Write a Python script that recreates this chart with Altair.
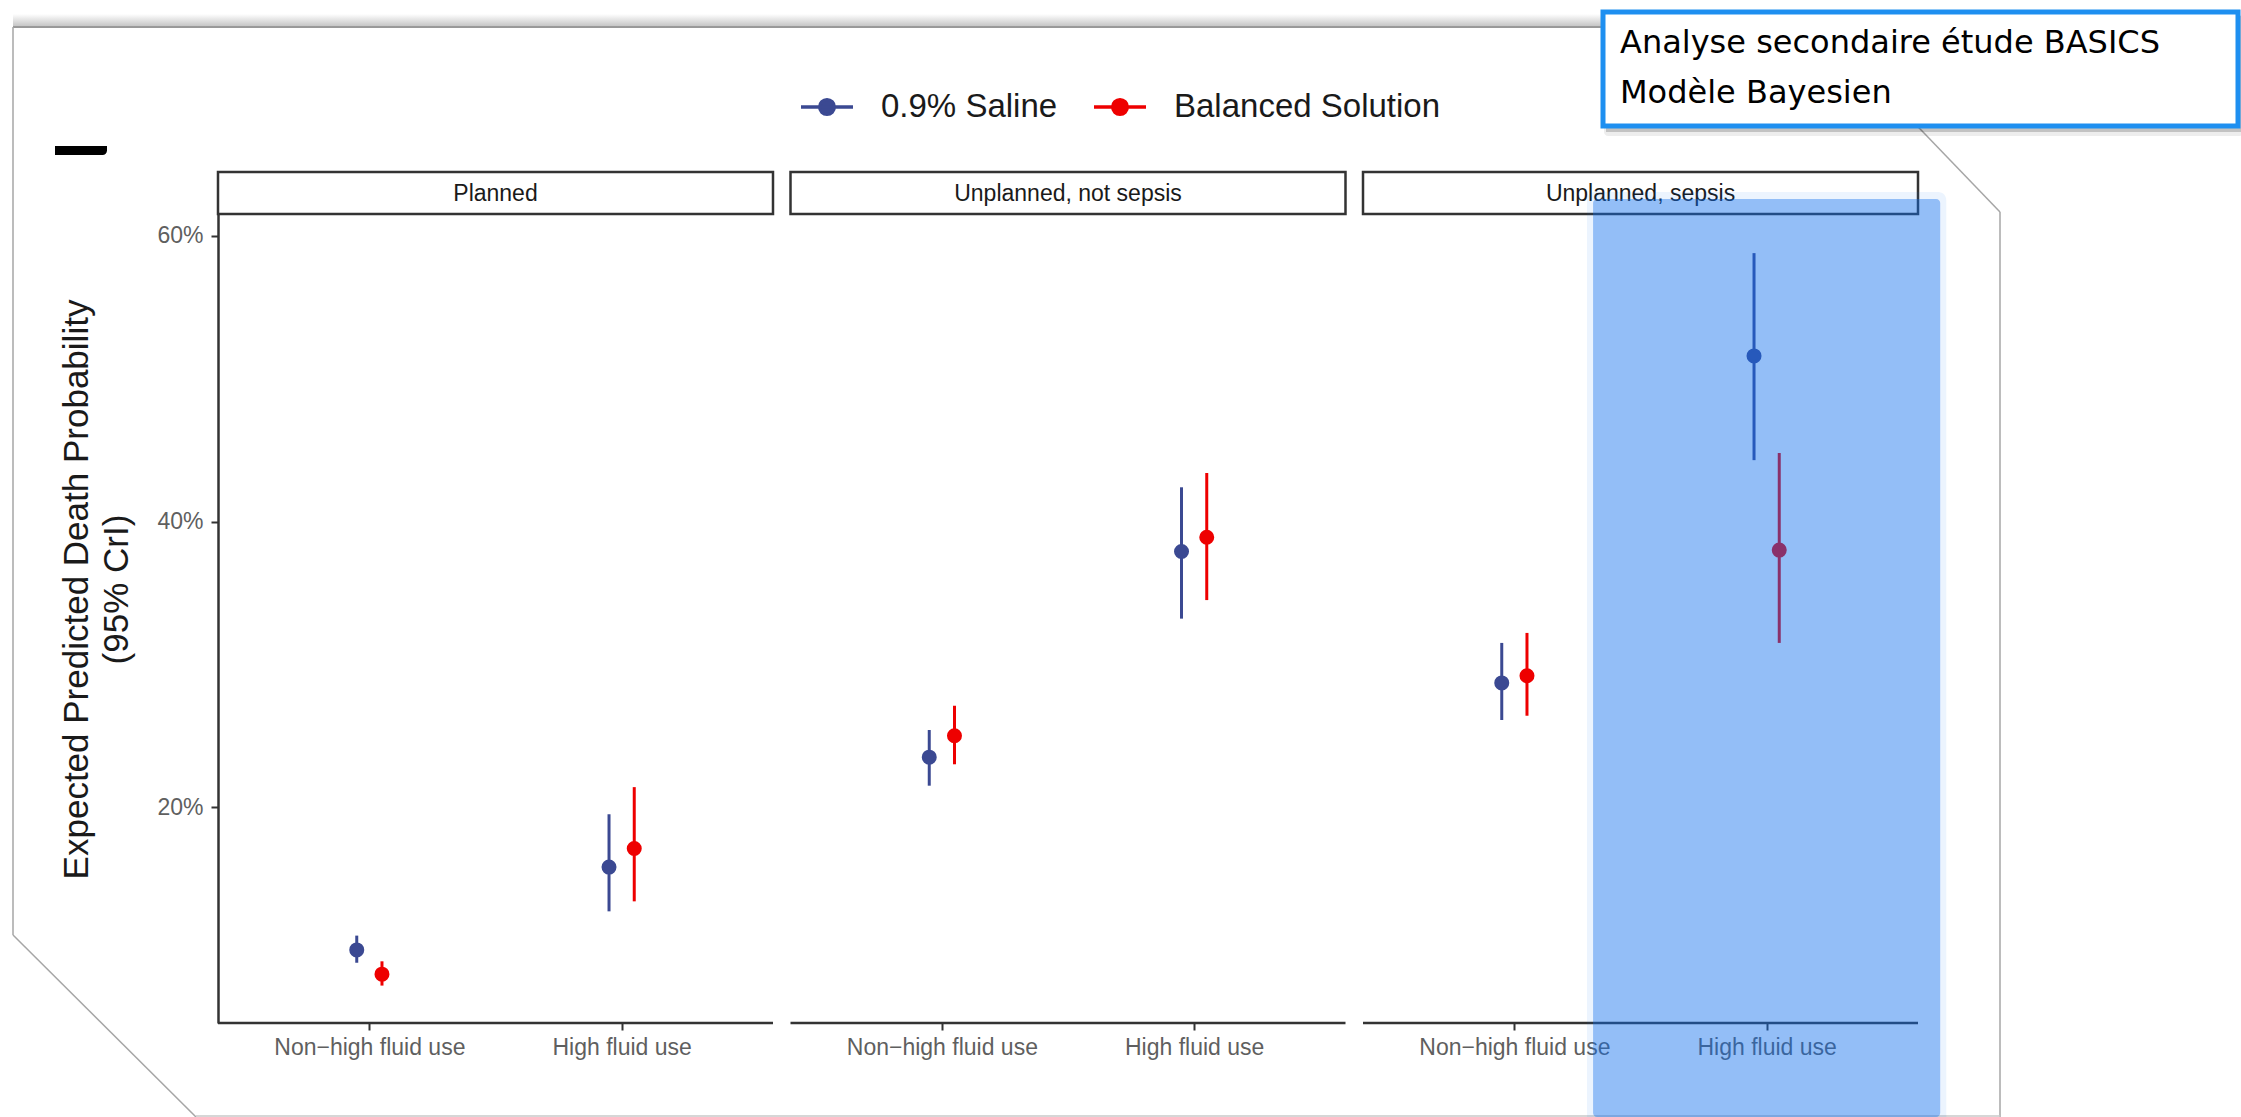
import altair as alt
import pandas as pd

# ---- data -----------------------------------------------------------------
panels = ["Planned", "Unplanned, not sepsis", "Unplanned, sepsis"]
fluid_use = ["Non\u2212high fluid use", "High fluid use"]
solutions = ["0.9% Saline", "Balanced Solution"]
solution_colors = ["#3B4992", "#EE0000"]

# Expected predicted death probability with its 95% CrI, panel by panel,
# non-high fluid use first, then high fluid use.
saline_est = [0.100, 0.158, 0.235, 0.379, 0.287, 0.516]
saline_low = [0.091, 0.127, 0.215, 0.332, 0.261, 0.443]
saline_high = [0.110, 0.195, 0.254, 0.424, 0.315, 0.588]
balanced_est = [0.083, 0.171, 0.250, 0.389, 0.292, 0.380]
balanced_low = [0.075, 0.134, 0.230, 0.345, 0.264, 0.315]
balanced_high = [0.092, 0.214, 0.271, 0.434, 0.322, 0.448]

y_ticks = [0.2, 0.4, 0.6]
y_title = ["Expected Predicted Death Probability", "(95% CrI)"]
highlight = ("Unplanned, sepsis", "High fluid use")
note_lines = ["Analyse secondaire étude BASICS", "Modèle Bayesien"]

# ---- layout ---------------------------------------------------------------
PAGE_W, PAGE_H = 2241, 1117
OX, OY = 218, 214            # plot origin on the page
W, H = 1700, 809             # plot area
SPAN = 2.2                   # one facet: discrete positions 1..2 expanded by 0.6
GAP = 0.0694                 # space between facets, in the same units
PERIOD = SPAN + GAP
X_MAX = 3 * SPAN + 2 * GAP
DODGE = 0.05
Y_MIN, Y_MAX = 0.0488, 0.6154

series = {
    solutions[0]: (saline_est, saline_low, saline_high),
    solutions[1]: (balanced_est, balanced_low, balanced_high),
}
rows = []
for k, sol in enumerate(solutions):
    est, low, high = series[sol]
    for idx in range(len(est)):
        i, j = divmod(idx, len(fluid_use))
        rows.append({
            "panel": panels[i], "fluid": fluid_use[j], "solution": sol,
            "xpos": i * PERIOD + j + 0.6 + (k - 0.5) * 2 * DODGE,
            "est": est[idx], "low": low[idx], "high": high[idx],
        })
df = pd.DataFrame(rows)

panel_df = pd.DataFrame({
    "panel": panels,
    "start": [i * PERIOD for i in range(len(panels))],
})
panel_df["end"] = panel_df["start"] + SPAN
panel_df["mid"] = panel_df["start"] + SPAN / 2

x_ticks = [i * PERIOD + j + 0.6 for i in range(len(panels)) for j in range(len(fluid_use))]
label_expr = f"(datum.value % {PERIOD}) < 1.1 ? '{fluid_use[0]}' : '{fluid_use[1]}'"

hl_center = panels.index(highlight[0]) * PERIOD + fluid_use.index(highlight[1]) + 0.6
hl_df = pd.DataFrame({"center": [hl_center]})

FONT = "Liberation Sans"

xs = alt.Scale(domain=[0, X_MAX], nice=False, zero=False)
ys = alt.Scale(domain=[Y_MIN, Y_MAX], nice=False, zero=False)
color_scale = alt.Scale(domain=solutions, range=solution_colors)

x_axis = alt.Axis(
    values=x_ticks, labelExpr=label_expr, domain=False, grid=False,
    tickSize=7, tickWidth=2, tickColor="#333333",
    labelFont=FONT, labelFontSize=23, labelColor="#5f5f5f", labelPadding=6,
    labelLimit=400, labelFlush=False, labelOverlap=False, zindex=0,
)
y_axis = alt.Axis(
    values=y_ticks, format=".0%", grid=False,
    domainColor="#333333", domainWidth=2.5,
    tickSize=7, tickWidth=2, tickColor="#333333",
    labelFont=FONT, labelFontSize=23, labelColor="#5f5f5f", labelPadding=8,
    title=y_title, titleFont=FONT, titleFontSize=35, titleFontWeight="normal",
    titleColor="#1a1a1a", titleAngle=270, titleX=-142, titleY=375,
    titleAlign="center", titleBaseline="middle", titleLineHeight=40,
)

legend_symbol = (
    "M-1,0H1M-0.28,0A0.28,0.28,0,1,1,0.28,0A0.28,0.28,0,1,1,-0.28,0Z"
)
legend = alt.Legend(
    orient="none", legendX=581, legendY=-135, direction="horizontal",
    symbolType=legend_symbol, symbolSize=2704, symbolStrokeWidth=3.5,
    symbolOpacity=1, labelFont=FONT, labelFontSize=33, labelColor="#1a1a1a",
    labelOffset=26, columnPadding=29, padding=0, labelLimit=500,
)


def X(field):
    return alt.X(field, type="quantitative", scale=xs, axis=x_axis, title=None)


def rel(px, py):
    """Page pixel position -> plot-area pixel position."""
    return px - OX, py - OY


one_row = alt.Data(values=[{"k": 0}])


def segment(p1, p2, color="#a6a6a6", width=1.5):
    (x1, y1), (x2, y2) = rel(*p1), rel(*p2)
    return alt.Chart(one_row).mark_rule(color=color, strokeWidth=width).encode(
        x=alt.value(x1), y=alt.value(y1), x2=alt.value(x2), y2=alt.value(y2)
    )


def box(p1, p2, **style):
    (x1, y1), (x2, y2) = rel(*p1), rel(*p2)
    return alt.Chart(one_row).mark_rect(**style).encode(
        x=alt.value(x1), y=alt.value(y1), x2=alt.value(x2), y2=alt.value(y2)
    )


# ---- slide frame ----------------------------------------------------------
frame_shadow = box(
    (13, 14), (1822, 28),
    fill=alt.Gradient(
        gradient="linear", x1=0, x2=0, y1=0, y2=1,
        stops=[alt.GradientStop(color="#ffffff", offset=0),
               alt.GradientStop(color="#bdbdbd", offset=1)],
    ),
)
frame = [
    segment((13, 27), (1822, 27), color="#8c8c8c"),
    segment((1822, 27), (2000, 212)),
    segment((2000, 212), (2000, 1117)),
    segment((13, 27), (13, 935)),
    segment((13, 935), (196, 1117)),
    segment((196, 1116), (2000, 1116), color="#c8c8c8"),
]
clipped_glyph = box((55, 146), (107, 155), fill="black", cornerRadiusBottomRight=9)

# ---- facet strips and axis lines -----------------------------------------
strips = alt.Chart(panel_df).mark_rect(
    fill="white", stroke="#333333", strokeWidth=2.5
).encode(x=X("start"), x2="end", y=alt.value(-42), y2=alt.value(0))

strip_text = alt.Chart(panel_df).mark_text(
    font=FONT, fontSize=23, color="#1a1a1a", baseline="middle", align="center"
).encode(x=X("mid"), y=alt.value(-20), text="panel:N")

axis_lines = alt.Chart(panel_df).mark_rule(
    color="#333333", strokeWidth=2.5
).encode(x=X("start"), x2="end", y=alt.value(H))

# ---- estimates ------------------------------------------------------------
ci = alt.Chart(df).mark_rule(strokeWidth=3).encode(
    x=X("xpos"),
    y=alt.Y("low:Q", scale=ys, axis=y_axis),
    y2="high:Q",
    color=alt.Color("solution:N", scale=color_scale, legend=legend, title=None),
)
pts = alt.Chart(df).mark_point(
    shape="circle", size=144, strokeWidth=3, opacity=1
).encode(
    x=X("xpos"),
    y=alt.Y("est:Q", scale=ys, axis=y_axis),
    color=alt.Color("solution:N", scale=color_scale, legend=legend, title=None),
    fill=alt.Fill("solution:N", scale=color_scale, legend=legend, title=None),
)

# ---- highlight band on the emphasised category ---------------------------
hl_soft = alt.Chart(hl_df).transform_calculate(
    a="datum.center - 0.712", b="datum.center + 0.712"
).mark_rect(fill="#0E6EEE", opacity=0.08, cornerRadius=8).encode(
    x=X("a:Q"), x2="b:Q", y=alt.value(199 - OY - 7), y2=alt.value(PAGE_H - OY + 8)
)
hl_core = alt.Chart(hl_df).transform_calculate(
    a="datum.center - 0.688", b="datum.center + 0.688"
).mark_rect(fill="#0E6EEE", opacity=0.40, cornerRadius=4).encode(
    x=X("a:Q"), x2="b:Q", y=alt.value(199 - OY), y2=alt.value(PAGE_H - OY)
)

# ---- note box -------------------------------------------------------------
note_shadow_outer = box((1604, 15), (2244, 136), fill="#000000", opacity=0.07, cornerRadius=4)
note_shadow = box((1606, 16), (2242, 132), fill="#000000", opacity=0.18)
note_box = box((1603, 12), (2238, 126), fill="white", stroke="#1E8FF0", strokeWidth=5)
nx, ny = rel(1620, 43)
note_text = alt.Chart(one_row).mark_text(
    font="DejaVu Sans", fontSize=32, color="black", align="left",
    baseline="middle", lineHeight=50,
).encode(x=alt.value(nx), y=alt.value(ny), text=alt.value(note_lines))

layers = (
    [frame_shadow] + frame + [clipped_glyph, strips, strip_text, axis_lines, ci, pts,
     hl_soft, hl_core, note_shadow_outer, note_shadow, note_box, note_text]
)

chart = alt.layer(*layers).properties(
    width=W,
    height=H,
    autosize=alt.AutoSizeParams(type="none"),
    padding={"left": OX, "top": OY, "right": PAGE_W - OX - W, "bottom": PAGE_H - OY - H},
    background="white",
).configure_view(strokeWidth=0)

chart.save("out.html", embed_options={"renderer": "svg", "actions": False})
